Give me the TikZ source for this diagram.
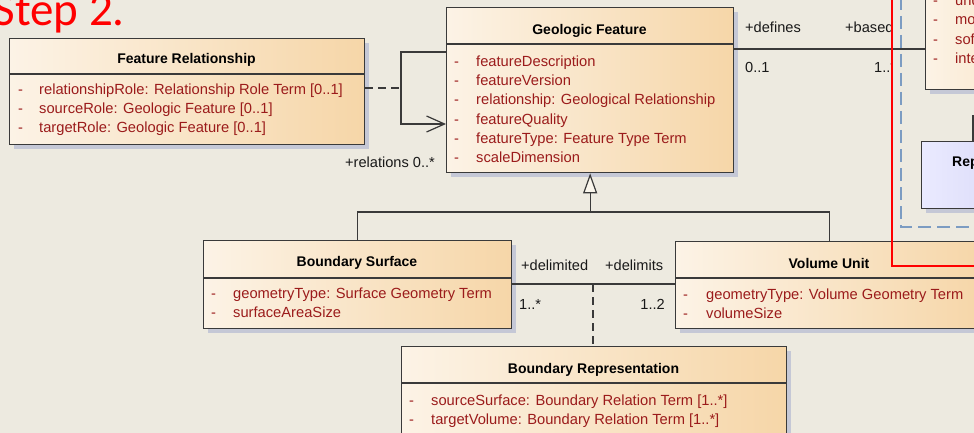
\documentclass[tikz,border=0pt]{standalone}
\usepackage{fontspec}
\setmainfont{Liberation Sans}
\newfontfamily\stepfont{Carlito}
\usetikzlibrary{arrows.meta,shadows}
\definecolor{bgc}{HTML}{EDEAE0}
\definecolor{boxl}{HTML}{FCF3E6}
\definecolor{boxr}{HTML}{F6D6A8}
\definecolor{repl}{HTML}{EAEAFF}
\definecolor{repr}{HTML}{C6C6F0}
\definecolor{edgec}{HTML}{3A3A3A}
\definecolor{shadc}{HTML}{C5C8D6}
\definecolor{attrc}{HTML}{9B1B1B}
\definecolor{framec}{HTML}{7C9CC2}
\definecolor{trifill}{HTML}{FAF6EC}
\newcommand\attrrow[5]{\node[attr] (#1d) at (#2,#4) {-};\node[attr] (#1) at (#3,#4) {#5};}
\begin{document}
\begin{tikzpicture}[x=1pt,y=-1pt,
  umlbox/.style={draw=edgec, line width=1.3pt, rectangle, inner sep=0pt, anchor=north west,
    left color=boxl, right color=boxr,
    drop shadow={shadow xshift=4pt, shadow yshift=-4pt, fill=shadc, opacity=1}},
  repbox/.style={umlbox, left color=repl, right color=repr},
  sepline/.style={draw=edgec, line width=1.3pt},
  title/.style={anchor=base, inner sep=0pt, text=black, font=\fontsize{14}{16}\selectfont\bfseries},
  attr/.style={anchor=base west, inner sep=0pt, text=attrc, font=\fontsize{14.7}{17}\selectfont},
  lbl/.style={anchor=base west, inner sep=0pt, text=black!90, font=\fontsize{14.6}{17}\selectfont},
  conn/.style={draw=edgec, line width=1.2pt},
  dashedc/.style={draw=edgec, line width=1.2pt, dash pattern=on 8pt off 5pt}]
\useasboundingbox (0,0) rectangle (974,433);
\clip (0,0) rectangle (974,433);
\fill[bgc] (0,0) rectangle (974,433);

% ---- boxes
\node[umlbox, minimum width=355pt, minimum height=106pt] (fr) at (9,38) {};
\draw[sepline] (9,74) -- (364,74);
\node[title] (frt) at (186.5,64) {Feature Relationship};
\attrrow{fra}{18}{39}{94.3}{relationshipRole: Relationship Role Term [0..1]}
\attrrow{frb}{18}{39}{113.6}{sourceRole: Geologic Feature [0..1]}
\attrrow{frc}{18}{39}{132.9}{targetRole: Geologic Feature [0..1]}

\node[umlbox, minimum width=287pt, minimum height=165pt] (gf) at (446,7) {};
\draw[sepline] (446,44) -- (733,44);
\node[title] (gft) at (589.5,35) {Geologic Feature};
\attrrow{gfa}{454}{476}{66.5}{featureDescription}
\attrrow{gfb}{454}{476}{85.7}{featureVersion}
\attrrow{gfc}{454}{476}{104.9}{relationship: Geological Relationship}
\attrrow{gfd}{454}{476}{124.1}{featureQuality}
\attrrow{gfe}{454}{476}{143.3}{featureType: Feature Type Term}
\attrrow{gff}{454}{476}{162.5}{scaleDimension}

\node[umlbox, minimum width=308pt, minimum height=88pt] (bs) at (203,240) {};
\draw[sepline] (203,278) -- (511,278);
\node[title] (bst) at (357,266.7) {Boundary Surface};
\attrrow{bsa}{211}{233}{298.3}{geometryType: Surface Geometry Term}
\attrrow{bsb}{211}{233}{317.7}{surfaceAreaSize}

\node[umlbox, minimum width=308pt, minimum height=87pt] (vu) at (675,241) {};
\draw[sepline] (675,278) -- (983,278);
\node[title] (vut) at (829,268.5) {Volume Unit};
\attrrow{vua}{683}{706}{299.8}{geometryType: Volume Geometry Term}
\attrrow{vub}{683}{706}{318.6}{volumeSize}

\node[umlbox, minimum width=385pt, minimum height=110pt] (br) at (401,346) {};
\draw[sepline] (401,383) -- (786,383);
\node[title] (brt) at (593.5,373.3) {Boundary Representation};
\attrrow{bra}{409}{431}{405}{sourceSurface: Boundary Relation Term [1..*]}
\attrrow{brb}{409}{431}{424.3}{targetVolume: Boundary Relation Term [1..*]}

\node[umlbox, minimum width=200pt, minimum height=149pt] (tr) at (925,-60) {};
\attrrow{tra}{933}{955}{6}{und}
\attrrow{trb}{933}{955}{25}{mo}
\attrrow{trc}{933}{955}{44.3}{sof}
\attrrow{trd}{933}{955}{63.3}{inte}

\node[repbox, minimum width=200pt, minimum height=67pt] (rep) at (921,141) {};
\node[title, anchor=base west] (rept) at (952,166.7) {Rep};

% ---- connectors
\coordinate (rj) at (401,88);
\coordinate (ra) at (0,52);
\coordinate (rb) at (0,124);
\draw[dashedc] (fr.east |- rj) -- (rj);
\draw[conn, -{Straight Barb[length=18pt, width=16pt]}]
  (gf.west |- ra) -- (rj |- ra) -- (rj |- rb) -- (gf.west |- rb);
\node[lbl] (rel) at (345,167.5) {+relations 0..*};

\coordinate (gj) at (590,212);
\draw[conn] (bs.north) -- (bs.north |- gj) -- (vu.north |- gj) -- (vu.north);
\draw[conn, -{Triangle[length=20pt, width=14pt, fill=trifill]}] (gf.south |- gj) -- (gf.south);

\coordinate (ya) at (0,284);
\coordinate (am) at (593,284);
\draw[conn] (bs.east |- ya) -- (vu.west |- ya);
\draw[dashedc] (am) -- (br.north -| am);
\node[lbl] (l1) at (521,270) {+delimited};
\node[lbl] (l2) at (605,270) {+delimits};
\node[lbl] (l3) at (519,309.3) {1..*};
\node[lbl, anchor=base east] (l4) at (665,309.3) {1..2};

\coordinate (yd) at (0,49);
\draw[conn] (gf.east |- yd) -- (tr.west |- yd);
\node[lbl] (l5) at (745,32.7) {+defines};
\node[lbl] (l6) at (745,72.7) {0..1};
\begin{scope}
\clip (0,0) rectangle (891,433);
\node[lbl] (l7) at (845,32.7) {+based};
\node[lbl] (l8) at (874,72.7) {1..*};
\end{scope}

\coordinate (rq) at (973,116);
\draw[conn] (rep.north west -| rq) -- (rq) -- ++(10,0);

% ---- overlays
\draw[framec, line width=2pt, dash pattern=on 13pt off 6pt] (901,-3) -- (901,227) -- (980,227);
\draw[red, line width=2.6pt] (892,-3) -- (892,266) -- (980,266);

\node[anchor=base east, inner sep=0pt, text=red, font=\stepfont\fontsize{47}{52}\selectfont] (step) at (125,26) {Step 2.};
\end{tikzpicture}
\end{document}
